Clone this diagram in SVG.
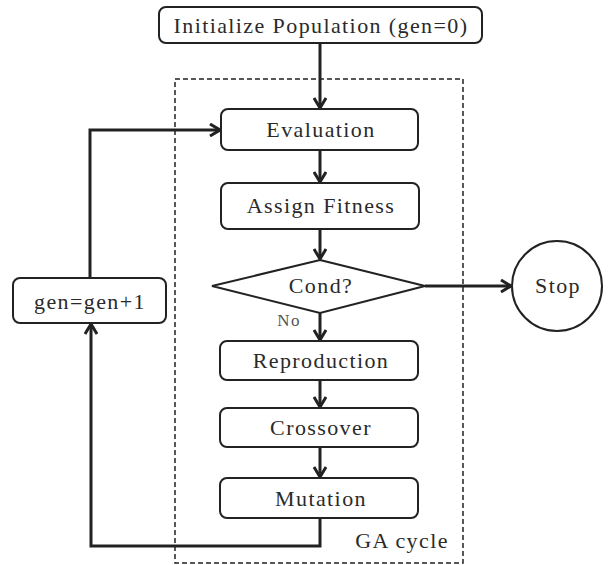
<svg xmlns="http://www.w3.org/2000/svg" width="608" height="565" viewBox="0 0 608 565">
<defs>
<style>
.box{fill:#fff;stroke:#222;stroke-width:2}
text{font-family:'Liberation Serif','Times New Roman','DejaVu Serif',serif;font-size:22px;fill:#2a2a2a;text-anchor:middle;letter-spacing:1.4px}
.c{fill:none;stroke:#222;stroke-width:3}
</style>
<marker id="ah" markerUnits="userSpaceOnUse" viewBox="0 0 12 14" refX="11" refY="7" markerWidth="12" markerHeight="14" orient="auto">
<path d="M1,1 L11,7 L1,13" fill="none" stroke="#222" stroke-width="3"/>
</marker>
</defs>
<rect width="608" height="565" fill="#fff"/>
<g id="ga-cycle">
<rect x="175" y="79" width="288" height="484" fill="none" stroke="#222" stroke-width="1.5" stroke-dasharray="5,3"/>
<text x="402" y="548">GA cycle</text>
</g>
<g id="connectors">
<path class="c" d="M320,43 V108" marker-end="url(#ah)"/>
<path class="c" d="M320,150 V182" marker-end="url(#ah)"/>
<path class="c" d="M320,229 V259" marker-end="url(#ah)"/>
<path class="c" d="M320,313 V340" marker-end="url(#ah)"/>
<path class="c" d="M320,380 V407" marker-end="url(#ah)"/>
<path class="c" d="M320,447 V477" marker-end="url(#ah)"/>
<path class="c" d="M425,286 H511" marker-end="url(#ah)"/>
<path class="c" d="M320,518 V546 H91 V324" marker-end="url(#ah)"/>
<path class="c" d="M90,278 V130 H220" marker-end="url(#ah)"/>
<text x="289" y="326" style="font-size:17px;fill:#555">No</text>
</g>
<g id="init">
<rect class="box" x="159" y="7" width="323" height="36" rx="7"/>
<text x="321" y="33">Initialize Population (gen=0)</text>
</g>
<g id="evaluation">
<rect class="box" x="221" y="109" width="197" height="41" rx="7"/>
<text x="321" y="137">Evaluation</text>
</g>
<g id="assign-fitness">
<rect class="box" x="221" y="183" width="198" height="46" rx="7"/>
<text x="321" y="213">Assign Fitness</text>
</g>
<g id="cond">
<polygon class="box" points="320,260 425,286 320,313 212,286"/>
<text x="321" y="293">Cond?</text>
</g>
<g id="stop">
<circle class="box" cx="557" cy="286" r="45"/>
<text x="558" y="293">Stop</text>
</g>
<g id="gen-inc">
<rect class="box" x="13" y="278" width="153" height="45" rx="7"/>
<text x="90" y="309">gen=gen+1</text>
</g>
<g id="reproduction">
<rect class="box" x="220" y="341" width="198" height="39" rx="7"/>
<text x="321" y="368">Reproduction</text>
</g>
<g id="crossover">
<rect class="box" x="220" y="408" width="198" height="39" rx="7"/>
<text x="321" y="435">Crossover</text>
</g>
<g id="mutation">
<rect class="box" x="220" y="478" width="198" height="40" rx="7"/>
<text x="321" y="506">Mutation</text>
</g>
</svg>
